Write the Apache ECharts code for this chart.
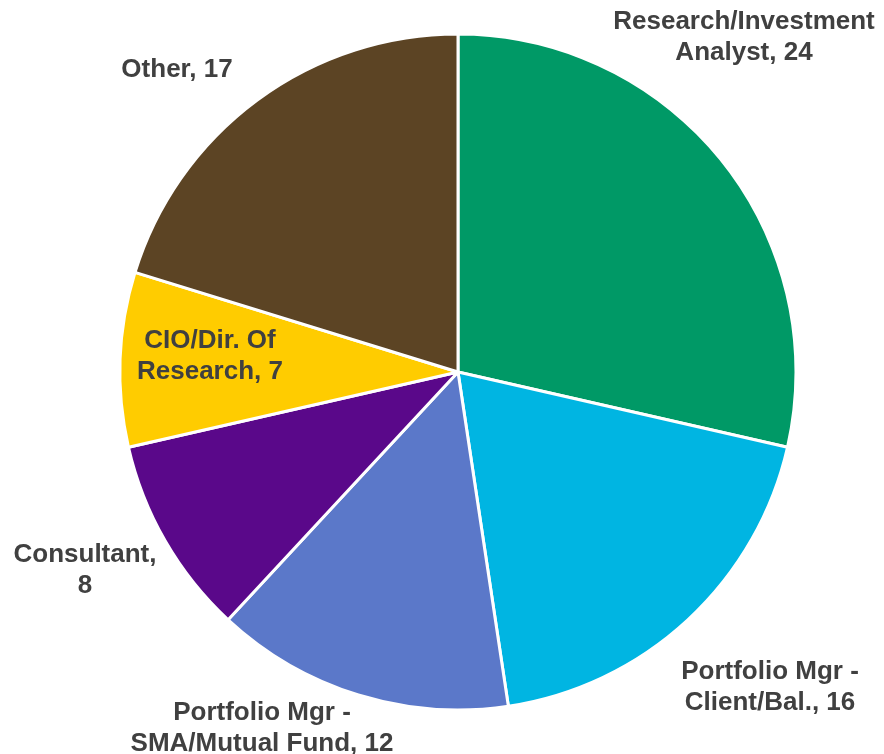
<!DOCTYPE html>
<html>
<head>
<meta charset="utf-8">
<script src="https://cdn.jsdelivr.net/npm/echarts@6/dist/echarts.min.js"></script>
<style>html,body{margin:0;padding:0;background:#fff;}#chart{width:884px;height:754px;}</style>
</head>
<body>
<div id="chart"></div>
<script>
var categories = ["Research/Investment\nAnalyst", "Portfolio Mgr -\nClient/Bal.", "Portfolio Mgr -\nSMA/Mutual Fund", "Consultant,\n", "CIO/Dir. Of\nResearch", "Other"];
var values = [24, 16, 12, 8, 7, 17];
var colors = ["#009966", "#00B5E2", "#5B78C9", "#5A088A", "#FFCC00", "#5C4424"];

var labelCenters = [[744, 37], [770, 687], [262, 728], [85, 570], [210, 356], [177, 70]];

var chart = echarts.init(document.getElementById('chart'), null, {renderer: 'canvas'});
var data = categories.map(function (c, i) {
  return { name: c, value: values[i], itemStyle: { color: colors[i] } };
});
chart.setOption({
  animation: false,
  series: [{
    type: 'pie',
    center: [458, 372],
    radius: [0, 338],
    startAngle: 90,
    clockwise: true,
    data: data,
    itemStyle: { borderColor: '#ffffff', borderWidth: 3 },
    label: {
      show: true,
      position: 'inside',
      overflow: 'none',
      formatter: function (p) {
        var n = p.name;
        if (n.charAt(n.length - 1) === '\n') return n + p.value;
        return n + ', ' + p.value;
      },
      fontFamily: 'Liberation Sans, Arial, sans-serif',
      fontWeight: 'bold',
      fontSize: 26,
      lineHeight: 31,
      color: '#404040',
      align: 'center'
    },
    labelLine: { show: false },
    labelLayout: function (params) {
      var c = labelCenters[params.dataIndex];
      return { x: c[0], y: c[1], align: 'center', verticalAlign: 'middle' };
    }
  }]
});
</script>
</body>
</html>
